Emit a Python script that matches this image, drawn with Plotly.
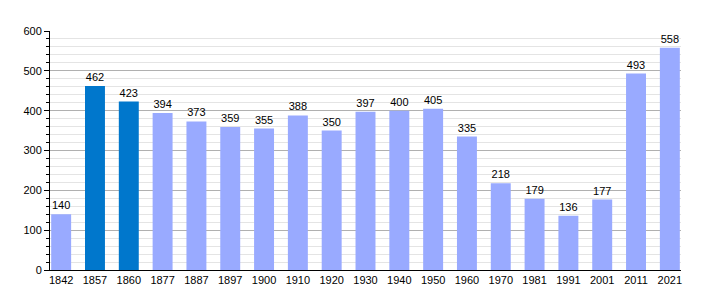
import plotly.graph_objects as go

years = ["1842", "1857", "1860", "1877", "1887", "1897", "1900", "1910", "1920", "1930",
         "1940", "1950", "1960", "1970", "1981", "1991", "2001", "2011", "2021"]
population = [140, 462, 423, 394, 373, 359, 355, 388, 350, 397,
              400, 405, 335, 218, 179, 136, 177, 493, 558]
highlight = ["1857", "1860"]

colors = ["#0077cc" if y in highlight else "#99aaff" for y in years]

fig = go.Figure(go.Bar(
    x=years, y=population,
    marker=dict(color=colors, line=dict(width=0)),
    width=0.59,
    text=[str(v) for v in population],
    textposition="outside",
    textfont=dict(family="Liberation Sans, Arial, sans-serif", size=11, color="#000"),
    cliponaxis=False,
))

fig.update_layout(
    width=710, height=300,
    margin=dict(l=50, r=29, t=31, b=30),
    paper_bgcolor="white", plot_bgcolor="white",
    font=dict(family="Liberation Sans, Arial, sans-serif", size=11, color="#000"),
    showlegend=False,
    xaxis=dict(
        type="category", range=[-0.33, 18.33],
        showline=True, linecolor="#000", linewidth=1,
        ticks="", showgrid=False, tickfont=dict(size=11),
    ),
    yaxis=dict(
        range=[0, 600], dtick=100, tick0=0,
        showline=True, linecolor="#000", linewidth=1,
        ticks="outside", ticklen=5, tickcolor="#000",
        showgrid=True, gridcolor="#b0b0b0", gridwidth=1,
        zeroline=False, tickfont=dict(size=11),
        minor=dict(dtick=20, ticks="outside", ticklen=3, tickcolor="#000",
                   showgrid=True, gridcolor="#e4e4e4", gridwidth=1),
    ),
)

fig.write_html("out.html")
